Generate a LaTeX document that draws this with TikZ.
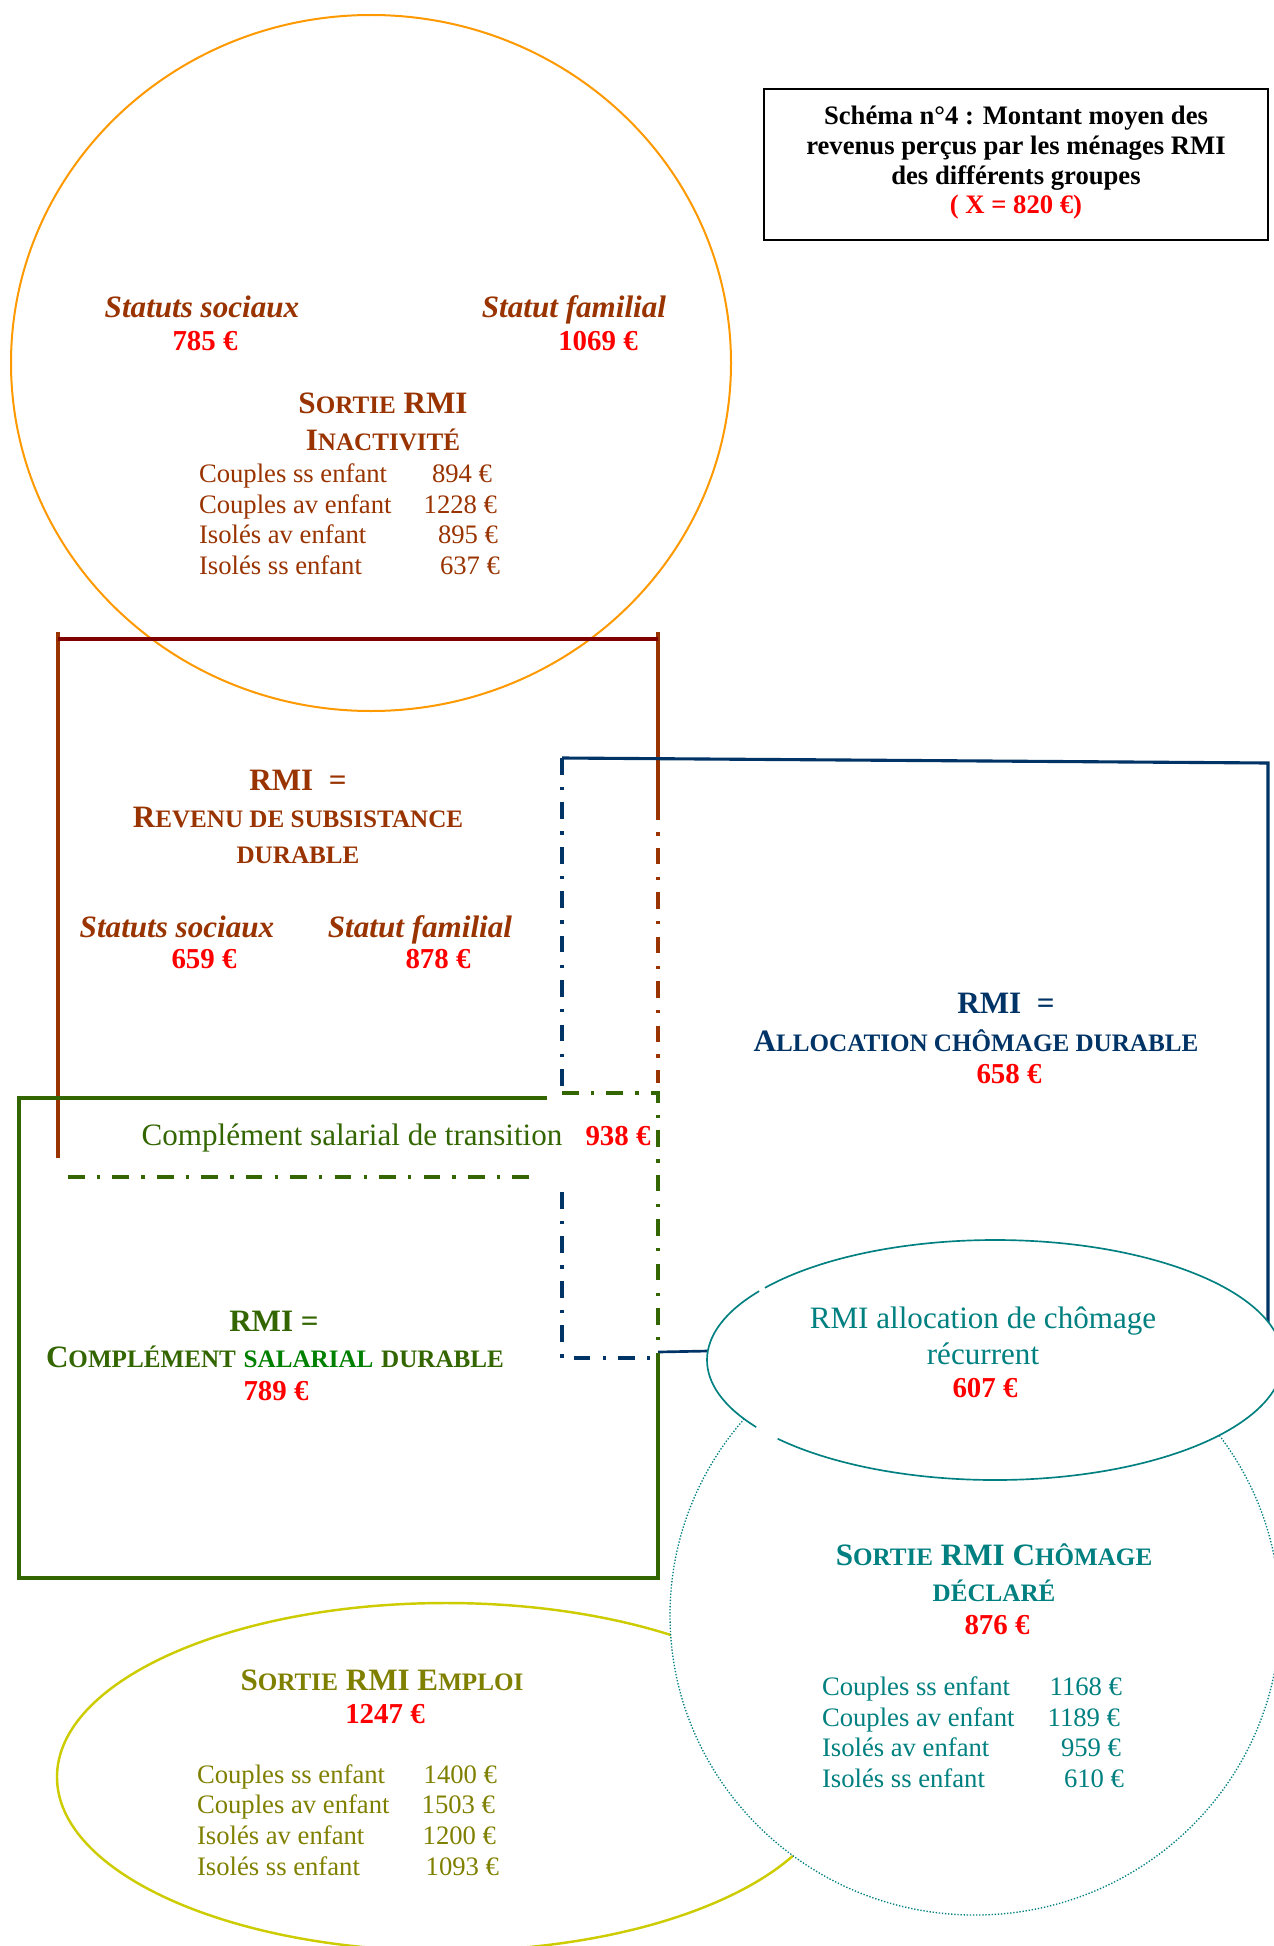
\documentclass[tikz,border=0pt]{standalone}
\usepackage{fontspec}
\setmainfont{Liberation Serif}
\definecolor{brn}{HTML}{993300}
\definecolor{dkred}{HTML}{800000}
\definecolor{orng}{HTML}{FF9900}
\definecolor{blu}{HTML}{003366}
\definecolor{grn}{HTML}{336600}
\definecolor{brgrn}{HTML}{008000}
\definecolor{tealc}{HTML}{008080}
\definecolor{olv}{HTML}{808000}
\definecolor{ylw}{HTML}{CCCC00}
\definecolor{redc}{HTML}{FF0000}
\newcommand\smc[1]{{\fontsize{11.3}{13}\selectfont #1}}
\begin{document}
\begin{tikzpicture}[x=0.45pt,y=-0.45pt,
  every node/.style={inner sep=0pt, outer sep=0pt, anchor=base},
  b14/.style={font=\fontsize{14}{16}\selectfont\bfseries},
  bi14/.style={font=\fontsize{14}{16}\selectfont\bfseries\itshape},
  r14/.style={font=\fontsize{14}{16}\selectfont},
  r12/.style={font=\fontsize{12}{14}\selectfont},
  b12/.style={font=\fontsize{12}{14}\selectfont\bfseries},
  amt/.style={font=\fontsize{13}{15}\selectfont\bfseries, text=redc},
  dd/.style={dash pattern=on 7.5pt off 5.5pt on 1.5pt off 5.5pt},
  thickln/.style={line width=1.4pt}]
\useasboundingbox (0,0) rectangle (1274,1946);
\fill[white] (0,0) rectangle (1274,1946);
\clip (0,0) rectangle (1274,1946);

% orange circle
\draw[orng, line width=0.9pt] (371,363) ellipse [x radius=360, y radius=348];

% brown box
\draw[brn, thickln] (58,632) -- (58,1158);
\draw[brn, thickln] (658,632) -- (658,820);
\draw[brn, thickln, dd, dash phase=7.5pt] (658,820) -- (658,1083);
\draw[dkred, thickln] (58,639) -- (658,639);

% blue box
\draw[blu, thickln] (562,758) -- (1268,763) -- (1268,1335);
\draw[blu, thickln, dd] (562,758) -- (562,1093);
\draw[blu, thickln, dd] (562,1192) -- (562,1358) -- (658,1358);
\coordinate (recw) at (708,1351);
\coordinate (grnr) at (658,1352);
\draw[blu, line width=1.2pt] (grnr) -- (recw);

% green box
\draw[grn, thickln] (547,1098) -- (19,1098) -- (19,1578) -- (658,1578) -- (658,1358);
\draw[grn, thickln, dd] (562,1093) -- (658,1093) -- (658,1358);
\draw[grn, thickln, dd] (68,1177) -- (540,1177);

% yellow ellipse
\draw[ylw, line width=1.1pt] (446,1777) ellipse [x radius=389, y radius=174];

% dotted circle
\draw[tealc, line width=0.6pt, dash pattern=on 0.6pt off 0.8pt, fill=white] (975,1615) ellipse [x radius=305, y radius=300];

% teal ellipse
\fill[white] (995,1360) ellipse [x radius=288, y radius=120];
\draw[tealc, line width=0.75pt] (995,1360) ++(146:288 and 120) arc[start angle=146, end angle=215, x radius=288, y radius=120];
\draw[tealc, line width=0.75pt] (995,1360) ++(217:288 and 120) arc[start angle=217, end angle=499, x radius=288, y radius=120];

% title box
\draw[black, line width=0.9pt] (764,89) rectangle (1268,240);
\node[b12] (t1) at (1016,125) {Schéma n°4 : Montant moyen des};
\node[b12] (t2) at (1016,155) {revenus perçus par les ménages RMI};
\node[b12] (t3) at (1016,185) {des différents groupes};
\node[b12, text=redc] (t4) at (1016,214) {( X = 820 €)};

% inactivite circle
\node[bi14, text=brn] (ss1) at (202,317) {Statuts sociaux};
\node[amt] (ss1v) at (205,350) {785 €};
\node[bi14, text=brn] (sf1) at (574,317) {Statut familial};
\node[amt] (sf1v) at (598,350) {1069 €};
\node[b14, text=brn] (h1a) at (383,413) {S\smc{ORTIE} RMI};
\node[b14, text=brn] (h1b) at (383,450) {I\smc{NACTIVITÉ}};
\foreach \lab/\val/\yy/\xr [count=\i] in {Couples ss enfant/894 €/482/492, Couples av enfant/1228 €/513/497, Isolés av enfant/895 €/543/498, Isolés ss enfant/637 €/574/500}{
  \node[r12, text=brn, anchor=base west] (ial\i) at (199,\yy) {\lab};
  \node[r12, text=brn, anchor=base east] (iav\i) at (\xr,\yy) {\val};
}

% subsistance box
\node[b14, text=brn] (s1) at (298,790) {RMI\ \ =};
\node[b14, text=brn] (s2) at (298,827) {R\smc{EVENU DE SUBSISTANCE}};
\node[b14, text=brn] (s3) at (298,863) {\smc{DURABLE}};
\node[bi14, text=brn] (ss2) at (177,937) {Statuts sociaux};
\node[amt] (ss2v) at (204,968) {659 €};
\node[bi14, text=brn] (sf2) at (420,937) {Statut familial};
\node[amt] (sf2v) at (438,968) {878 €};

% green texts
\node[r14, text=grn] (ct) at (352,1145) {Complément salarial de transition};
\node[amt] (ctv) at (618,1145) {938 €};
\node[b14, text=grn] (g1) at (274,1331) {RMI =};
\node[b14, text=grn] (g2) at (275,1367) {C\smc{OMPLÉMENT} \textcolor{brgrn}{\smc{SALARIAL}} \smc{DURABLE}};
\node[amt] (g3) at (276,1400) {789 €};

% blue texts
\node[b14, text=blu] (a1) at (1006,1013) {RMI\ \ =};
\node[b14, text=blu] (a2) at (976,1051) {A\smc{LLOCATION CHÔMAGE DURABLE}};
\node[amt] (a3) at (1009,1083) {658 €};

% teal ellipse texts
\node[r14, text=tealc] (r1) at (983,1328) {RMI allocation de chômage};
\node[r14, text=tealc] (r2) at (983,1364) {récurrent};
\node[amt] (r3) at (985,1397) {607 €};

% chomage circle
\node[b14, text=tealc] (c1) at (994,1565) {S\smc{ORTIE} RMI C\smc{HÔMAGE}};
\node[b14, text=tealc] (c2) at (994,1601) {\smc{DÉCLARÉ}};
\node[amt] (c3) at (997,1634) {876 €};
\foreach \lab/\val/\yy/\xr [count=\i] in {Couples ss enfant/1168 €/1695/1122, Couples av enfant/1189 €/1726/1120, Isolés av enfant/959 €/1756/1121, Isolés ss enfant/610 €/1787/1124}{
  \node[r12, text=tealc, anchor=base west] (chl\i) at (822,\yy) {\lab};
  \node[r12, text=tealc, anchor=base east] (chv\i) at (\xr,\yy) {\val};
}

% emploi ellipse
\node[b14, text=olv] (e1) at (382,1690) {S\smc{ORTIE} RMI E\smc{MPLOI}};
\node[amt] (e2) at (385,1723) {1247 €};
\foreach \lab/\val/\yy/\xr [count=\i] in {Couples ss enfant/1400 €/1783/497, Couples av enfant/1503 €/1813/495, Isolés av enfant/1200 €/1844/496, Isolés ss enfant/1093 €/1875/499}{
  \node[r12, text=olv, anchor=base west] (eml\i) at (197,\yy) {\lab};
  \node[r12, text=olv, anchor=base east] (emv\i) at (\xr,\yy) {\val};
}
\end{tikzpicture}
\end{document}
